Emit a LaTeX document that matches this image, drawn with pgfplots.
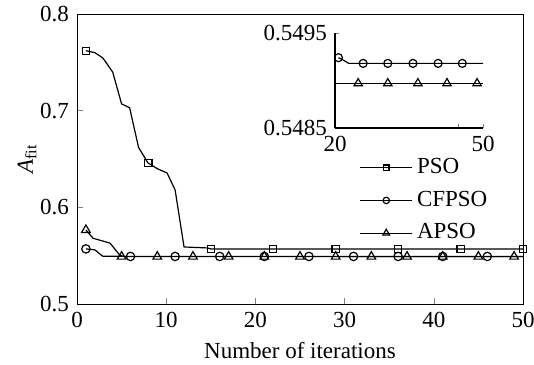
\documentclass[border=0pt]{standalone}
\usepackage{fontspec}
\setmainfont{Liberation Serif}
\usepackage{pgfplots}
\pgfplotsset{compat=1.18}
\begin{document}
\fontsize{11.5}{13.8}\selectfont
\begin{tikzpicture}
\path[use as bounding box] (-38.5pt,-30pt) rectangle (228.5pt,152pt);
\begin{axis}[
  scale only axis, width=223pt, height=145pt,
  xmin=0, xmax=50, ymin=0.5, ymax=0.8,
  xtick={0,10,...,50}, ytick={0.5,0.6,0.7,0.8},
  tick align=inside, xtick pos=bottom, ytick pos=left,
  major tick length=3pt,
  /pgf/number format/assume math mode=true,
  yticklabel style={/pgf/number format/fixed,/pgf/number format/precision=1},
  tick label style={font=\fontsize{11.5}{13.8}\selectfont},
  label style={font=\fontsize{11.5}{13.8}\selectfont},
  xlabel={Number of iterations},
  ylabel={\textit{A}\textsubscript{fit}},
  xlabel style={at={(axis description cs:0.5,-0.159)}, anchor=center},
  ylabel style={at={(axis description cs:-0.112,0.5)}, anchor=center},
  every axis plot/.append style={black, line width=0.6pt},
  legend style={at={(0.619,0.531)}, anchor=north west, draw=none, fill=none,
    font=\fontsize{11.5}{13.8}\selectfont, row sep=3pt},
  legend cell align=left,
  legend image code/.code={\draw[mark repeat=2,mark phase=2,#1] plot coordinates {(0cm,0cm)(0.46cm,0cm)(0.92cm,0cm)};},
]
% PSO line
\addplot[no marks, forget plot] coordinates {
(1,0.762)(2,0.760)(2.9,0.7545)(4,0.740)(5,0.707)(5.9,0.703)(6.9,0.662)(7.95,0.646)
(9,0.640)(10.1,0.6355)(11,0.618)(12,0.559)(14.6,0.558)(15,0.557)(50,0.557)};
\addplot[only marks, mark=square, mark size=1.8pt, mark options={solid,line width=0.6pt}, forget plot] coordinates {
(1,0.762)(8,0.646)(15,0.557)(22,0.557)(29,0.557)(36,0.557)(43,0.557)(50,0.557)};
% CFPSO line
\addplot[no marks, forget plot] coordinates {
(1,0.557)(2,0.556)(2.9,0.5493)(50,0.5492)};
\addplot[only marks, mark=o, mark size=2.1pt, mark options={solid,line width=0.6pt}, forget plot] coordinates {
(1,0.557)(6,0.5492)(11,0.5492)(16,0.5492)(21,0.5492)(26,0.5492)(31,0.5492)(36,0.5492)(41,0.5492)(46,0.5492)};
% APSO line
\addplot[no marks, forget plot] coordinates {
(1,0.5766)(1.8,0.568)(3.7,0.563)(4.8,0.5505)(5.3,0.549)(50,0.549)};
\addplot[only marks, mark=triangle, mark size=2.5pt, mark options={solid,line width=0.6pt}, forget plot] coordinates {
(1,0.5766)(5,0.549)(9,0.549)(13,0.549)(17,0.549)(21,0.549)(25,0.549)(29,0.549)(33,0.549)(37,0.549)(41,0.549)(45,0.549)(49,0.549)};
\addlegendimage{black, line width=0.6pt, mark=square, mark size=1.4pt}
\addlegendentry{PSO}
\addlegendimage{black, line width=0.6pt, mark=o, mark size=1.6pt}
\addlegendentry{CFPSO}
\addlegendimage{black, line width=0.6pt, mark=triangle, mark size=1.9pt}
\addlegendentry{APSO}
\end{axis}
\begin{axis}[
  at={(129pt,88pt)}, anchor=south west,
  scale only axis, width=74pt, height=47.5pt,
  xmin=20, xmax=50, ymin=0.5485, ymax=0.5495,
  axis lines=left, axis line style={-, line width=0.6pt},
  xtick={20,45,50}, xticklabels={20,,50},
  ytick={0.5485,0.5495},
  tick align=inside, major tick length=2pt,
  /pgf/number format/assume math mode=true,
  yticklabel style={/pgf/number format/fixed,/pgf/number format/precision=4,/pgf/number format/fixed zerofill},
  tick label style={font=\fontsize{11.5}{13.8}\selectfont},
  every axis plot/.append style={black, line width=0.6pt},
]
\addplot[no marks] coordinates {(20.7,0.54924)(21.5,0.54922)(22.8,0.54918)(50,0.54918)};
\addplot[only marks, mark=o, mark size=2pt, mark options={solid,line width=0.6pt}] coordinates {
(20.7,0.54924)(25.7,0.54918)(30.7,0.54918)(35.8,0.54918)(40.9,0.54918)(45.8,0.54918)};
\addplot[no marks] coordinates {(20,0.54897)(50,0.54897)};
\addplot[only marks, mark=triangle, mark size=2.4pt, mark options={solid,line width=0.6pt}] coordinates {
(24.7,0.54897)(30.7,0.54897)(36.8,0.54897)(42.7,0.54897)(48.8,0.54897)};
\end{axis}
\end{tikzpicture}
\end{document}
